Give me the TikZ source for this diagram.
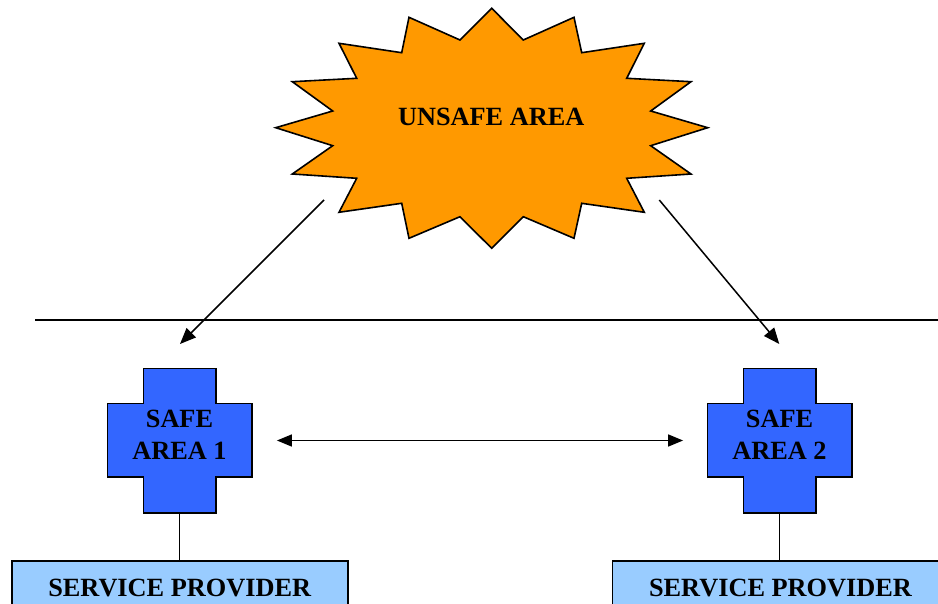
\documentclass[tikz,border=0pt]{standalone}
\usepackage{fontspec}
\setmainfont{Liberation Serif}
\usetikzlibrary{arrows.meta,calc}

\definecolor{burst}{HTML}{FF9900}
\definecolor{safeblue}{HTML}{3366FF}
\definecolor{provider}{HTML}{99CCFF}

\tikzset{
  outline/.style={draw=black, line width=1.6pt, line join=miter},
  label/.style={font=\fontsize{26.3}{32}\selectfont\bfseries, align=center, inner sep=0pt},
  crossbox/.style={minimum width=144.4pt, minimum height=144.4pt, inner sep=0pt},
  providerbox/.style={outline, fill=provider, minimum width=336pt, minimum height=54pt,
    inner sep=0pt, font=\fontsize{26.3}{32}\selectfont\bfseries},
  link/.style={line width=1.5pt},
  arrowlink/.style={link, -{Triangle[length=16pt,width=13pt]}},
  twoway/.style={link, {Triangle[length=15pt,width=12pt]}-{Triangle[length=15pt,width=12pt]}},
}

% plus-shaped outline around a centre point
\newcommand{\plusshape}[1]{%
  \filldraw[outline, fill=safeblue] (#1) ++(-36.2,-72.2) -- ++(72.4,0) -- ++(0,35.2)
    -- ++(36,0) -- ++(0,73.4) -- ++(-36,0) -- ++(0,36)
    -- ++(-72.4,0) -- ++(0,-36) -- ++(-36,0) -- ++(0,-73.4)
    -- ++(36,0) -- cycle;}

\begin{document}
\begin{tikzpicture}[x=1pt, y=-1pt]
  \useasboundingbox (0,0) rectangle (938,604);

  % the starburst
  \filldraw[outline, fill=burst]
    (491.7,8.3) -- (523.3,40) -- (574,17.3) -- (581.7,52.7) -- (644.3,43.3)
    -- (626.7,78.3) -- (691,81.7) -- (650.7,111) -- (707.7,127.7)
    -- (650.7,145.7) -- (691,174) -- (626.7,178.3) -- (644.3,212.3)
    -- (581.7,203.3) -- (574,238.3) -- (523.3,216.7) -- (491.7,248.3)
    -- (460,216.7) -- (409,238.3) -- (401.7,203.3) -- (339,212.3)
    -- (356.7,178.3) -- (292.3,174) -- (332.7,145.7) -- (275.7,127.7)
    -- (332.7,111) -- (292.3,81.7) -- (356.7,78.3) -- (339,43.3)
    -- (401.7,52.7) -- (409,17.3) -- (460,40) -- cycle;
  \node[label] (unsafe) at (491.2,117) {UNSAFE AREA};

  % boundary line
  \coordinate (lineL) at (35,320);
  \coordinate (lineR) at (938,320);
  \draw[link] (lineL) -- (lineR);

  % the two safe areas
  \coordinate (c1) at (179.5,440.5);
  \coordinate (c2) at (779.5,440.5);
  \plusshape{c1}
  \plusshape{c2}
  \node[crossbox] (cr1) at (c1) {};
  \node[crossbox] (cr2) at (c2) {};
  \node[label] (sa1) at ($(c1)+(0,-6)$) {SAFE\\AREA 1};
  \node[label] (sa2) at ($(c2)+(0,-6)$) {SAFE\\AREA 2};

  % service providers
  \node[providerbox, anchor=north] (sp1) at (179.7,560) {SERVICE PROVIDER};
  \node[providerbox, anchor=north west] (sp2) at (611.7,560) {SERVICE PROVIDER};

  % connectors
  \coordinate (u1) at (324,200);
  \coordinate (u2) at (659.3,200);
  \coordinate (t1) at (180,344);
  \coordinate (t2) at (779.3,344);
  \draw[arrowlink] (u1) -- (t1);
  \draw[arrowlink] (u2) -- (t2);
  \draw[twoway, shorten <=25pt, shorten >=24pt] (cr1.east) -- (cr2.west);
  \draw[link] (cr1.south) -- (cr1.south |- sp1.north);
  \draw[link] (cr2.south) -- (cr2.south |- sp2.north);
\end{tikzpicture}
\end{document}
